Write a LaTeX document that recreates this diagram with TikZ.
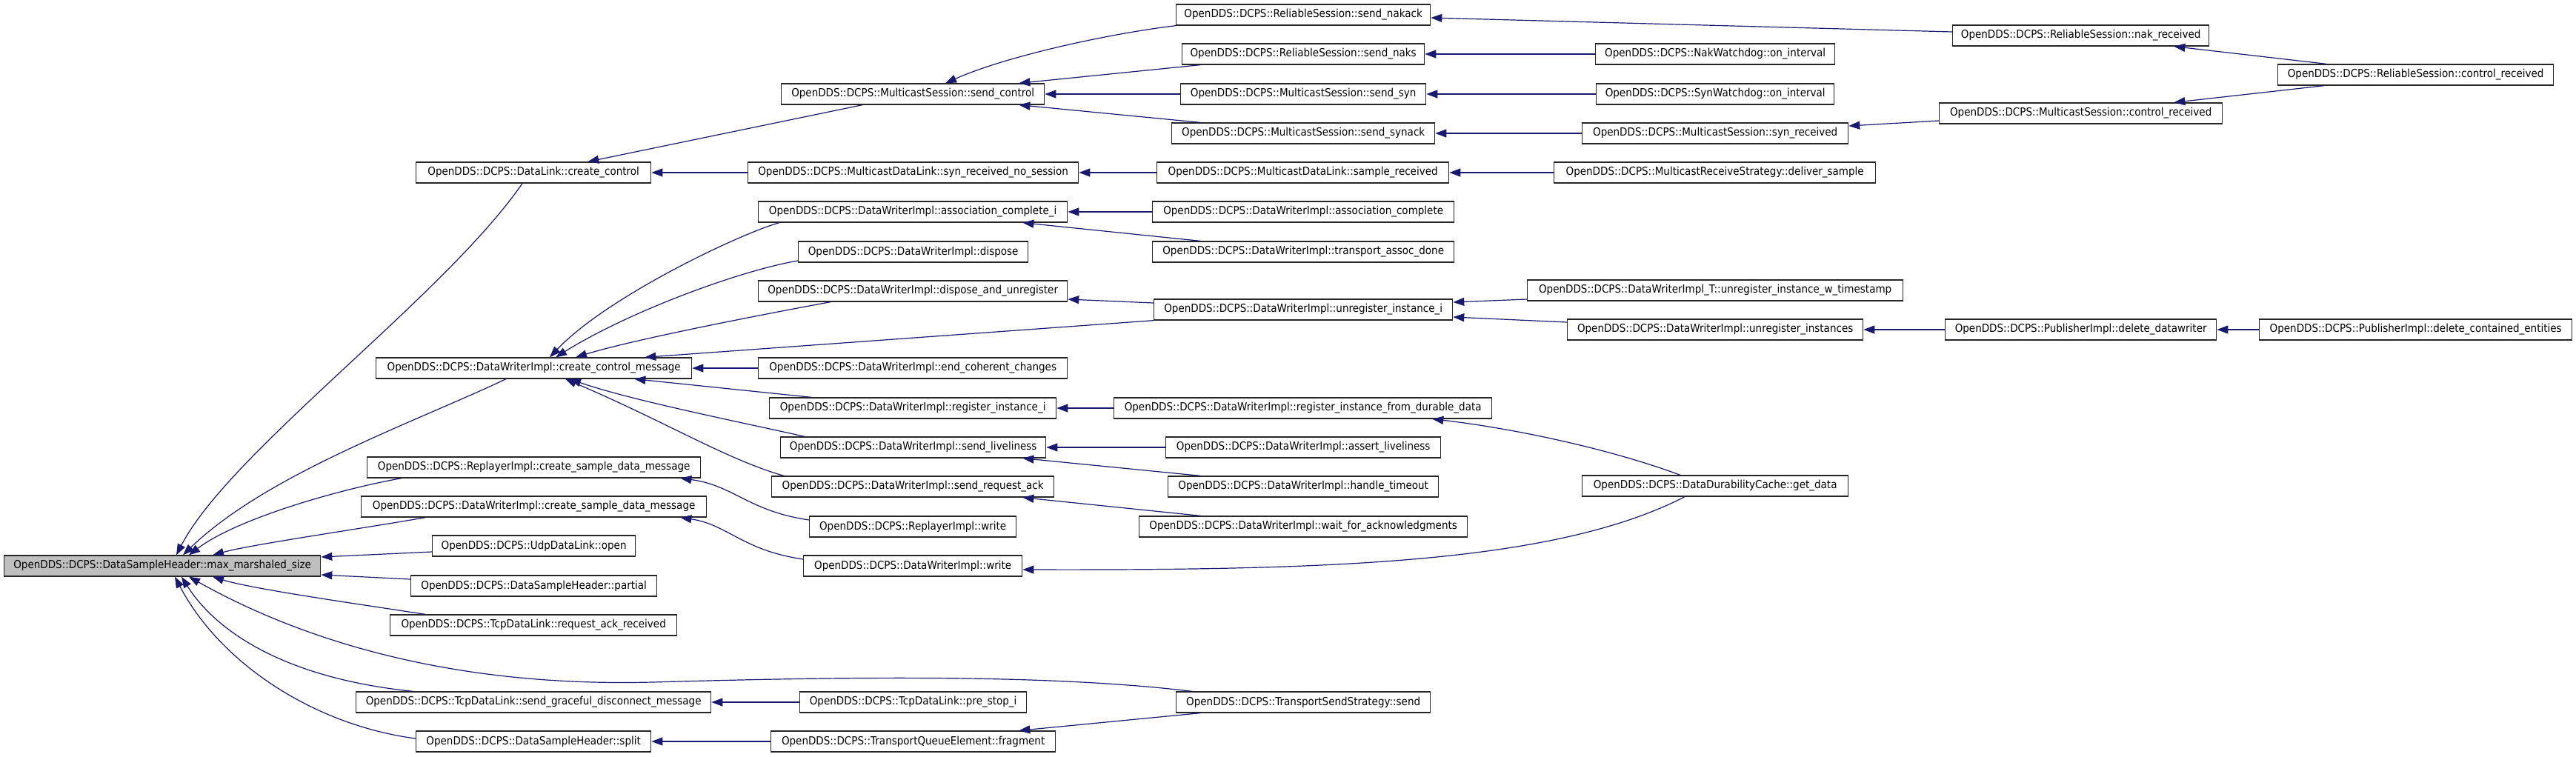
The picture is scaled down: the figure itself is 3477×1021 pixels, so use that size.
\documentclass[tikz,border=0pt]{standalone}
\usepackage{fontspec}
\setmainfont{DejaVu Sans}[FakeStretch=0.9]
\usetikzlibrary{arrows.meta}
\definecolor{edgeblue}{HTML}{191970}
\definecolor{rootgray}{HTML}{BFBFBF}
\newcommand\fnode[6][]{\node[fbox,#1,minimum width={#4-#3}] (#2) at (#3,#5) {#6};}
\begin{document}
\begin{tikzpicture}[x=1pt,y=-1pt,
  fbox/.style={draw=black!85, line width=1.3pt, anchor=west, inner sep=0pt,
    minimum height=28pt, font=\fontsize{15}{18}\selectfont, fill=white},
  cedge/.style={draw=edgeblue, line width=1.2pt, -{Triangle[length=15pt,width=11pt]}}]
\fill[white] (0,0) rectangle (3477,1021);
% column 0
\fnode[fill=rootgray]{root}{5}{432}{764}{OpenDDS::DCPS::DataSampleHeader::max\_marshaled\_size}
% column 1
\fnode{cc}{561}{878}{233}{OpenDDS::DCPS::DataLink::create\_control}
\fnode{ccm}{507}{933}{497}{OpenDDS::DCPS::DataWriterImpl::create\_control\_message}
\fnode{rcsdm}{495}{945}{631}{OpenDDS::DCPS::ReplayerImpl::create\_sample\_data\_message}
\fnode{dcsdm}{487}{953}{684}{OpenDDS::DCPS::DataWriterImpl::create\_sample\_data\_message}
\fnode{open}{583}{857}{737}{OpenDDS::DCPS::UdpDataLink::open}
\fnode{partial}{554}{886}{791}{OpenDDS::DCPS::DataSampleHeader::partial}
\fnode{rar}{526}{913}{844}{OpenDDS::DCPS::TcpDataLink::request\_ack\_received}
\fnode{sgdm}{480}{959}{948}{OpenDDS::DCPS::TcpDataLink::send\_graceful\_disconnect\_message}
\fnode{split}{561}{878}{1001}{OpenDDS::DCPS::DataSampleHeader::split}
% column 2
\fnode{sc}{1054}{1409}{127}{OpenDDS::DCPS::MulticastSession::send\_control}
\fnode{srns}{1009}{1455}{233}{OpenDDS::DCPS::MulticastDataLink::syn\_received\_no\_session}
\fnode{aci}{1023}{1440}{286}{OpenDDS::DCPS::DataWriterImpl::association\_complete\_i}
\fnode{disp}{1077}{1387}{340}{OpenDDS::DCPS::DataWriterImpl::dispose}
\fnode{dau}{1023}{1440}{393}{OpenDDS::DCPS::DataWriterImpl::dispose\_and\_unregister}
\fnode{ecc}{1023}{1440}{497}{OpenDDS::DCPS::DataWriterImpl::end\_coherent\_changes}
\fnode{rii}{1038}{1425}{551}{OpenDDS::DCPS::DataWriterImpl::register\_instance\_i}
\fnode{sl}{1053}{1411}{604}{OpenDDS::DCPS::DataWriterImpl::send\_liveliness}
\fnode{sra}{1041}{1422}{657}{OpenDDS::DCPS::DataWriterImpl::send\_request\_ack}
\fnode{rw}{1092}{1371}{711}{OpenDDS::DCPS::ReplayerImpl::write}
\fnode{dw}{1084}{1379}{764}{OpenDDS::DCPS::DataWriterImpl::write}
\fnode{psi}{1079}{1385}{948}{OpenDDS::DCPS::TcpDataLink::pre\_stop\_i}
\fnode{frag}{1040}{1424}{1001}{OpenDDS::DCPS::TransportQueueElement::fragment}
% column 3
\fnode{snk}{1587}{1930}{20}{OpenDDS::DCPS::ReliableSession::send\_nakack}
\fnode{sn}{1595}{1922}{73}{OpenDDS::DCPS::ReliableSession::send\_naks}
\fnode{ssyn}{1593}{1924}{127}{OpenDDS::DCPS::MulticastSession::send\_syn}
\fnode{ssa}{1581}{1936}{180}{OpenDDS::DCPS::MulticastSession::send\_synack}
\fnode{sr}{1561}{1955}{233}{OpenDDS::DCPS::MulticastDataLink::sample\_received}
\fnode{ac}{1555}{1962}{286}{OpenDDS::DCPS::DataWriterImpl::association\_complete}
\fnode{tad}{1555}{1962}{340}{OpenDDS::DCPS::DataWriterImpl::transport\_assoc\_done}
\fnode{uii}{1557}{1960}{418}{OpenDDS::DCPS::DataWriterImpl::unregister\_instance\_i}
\fnode{rifdd}{1503}{2013}{551}{OpenDDS::DCPS::DataWriterImpl::register\_instance\_from\_durable\_data}
\fnode{al}{1573}{1944}{604}{OpenDDS::DCPS::DataWriterImpl::assert\_liveliness}
\fnode{ht}{1576}{1941}{657}{OpenDDS::DCPS::DataWriterImpl::handle\_timeout}
\fnode{wfa}{1537}{1980}{711}{OpenDDS::DCPS::DataWriterImpl::wait\_for\_acknowledgments}
\fnode{tss}{1587}{1930}{948}{OpenDDS::DCPS::TransportSendStrategy::send}
% column 4
\fnode{nwd}{2153}{2476}{73}{OpenDDS::DCPS::NakWatchdog::on\_interval}
\fnode{swd}{2154}{2475}{127}{OpenDDS::DCPS::SynWatchdog::on\_interval}
\fnode{syr}{2135}{2494}{180}{OpenDDS::DCPS::MulticastSession::syn\_received}
\fnode{ds}{2097}{2531}{233}{OpenDDS::DCPS::MulticastReceiveStrategy::deliver\_sample}
\fnode{uiwt}{2061}{2568}{392}{OpenDDS::DCPS::DataWriterImpl\_T::unregister\_instance\_w\_timestamp}
\fnode{uis}{2115}{2514}{445}{OpenDDS::DCPS::DataWriterImpl::unregister\_instances}
\fnode{gd}{2135}{2494}{656}{OpenDDS::DCPS::DataDurabilityCache::get\_data}
% column 5
\fnode{nr}{2635}{2981}{48}{OpenDDS::DCPS::ReliableSession::nak\_received}
\fnode{msc}{2617}{2999}{153}{OpenDDS::DCPS::MulticastSession::control\_received}
\fnode{dd}{2625}{2991}{445}{OpenDDS::DCPS::PublisherImpl::delete\_datawriter}
% column 6
\fnode{rsc}{3074}{3446}{101}{OpenDDS::DCPS::ReliableSession::control\_received}
\fnode{dce}{3049}{3471}{445}{OpenDDS::DCPS::PublisherImpl::delete\_contained\_entities}
% edges to root
\draw[cedge] ([xshift=144pt]cc.south west) .. controls (600,400) and (310,610) .. ([xshift=233pt]root.north west);
\draw[cedge] ([xshift=176pt]ccm.south west) .. controls (560,570) and (360,640) .. ([xshift=242pt]root.north west);
\draw[cedge] ([xshift=47pt]rcsdm.south west) .. controls (460,660) and (320,700) .. ([xshift=250pt]root.north west);
\draw[cedge] ([xshift=87pt]dcsdm.south west) .. controls (480,715) and (340,735) .. ([xshift=282pt]root.north west);
\draw[cedge] ([yshift=-8pt]open.west) -- ([yshift=12pt]root.east);
\draw[cedge] ([yshift=9pt]partial.west) -- ([yshift=-12pt]root.east);
\draw[cedge] ([xshift=48pt]rar.north west) .. controls (480,815) and (340,795) .. ([xshift=282pt]root.south west);
\coordinate (tssmid) at (880,921);
\draw[cedge] ([xshift=22pt]tss.north west) .. controls (1400,908) and (1100,915) .. (tssmid) .. controls (600,928) and (400,860) .. ([xshift=250pt]root.south west);
\draw[cedge] ([xshift=77pt]sgdm.north west) .. controls (380,915) and (290,850) .. ([xshift=240pt]root.south west);
\draw[cedge] ([yshift=4pt]split.west) .. controls (430,980) and (300,900) .. ([xshift=231pt]root.south west);
% create_control branch
\draw[cedge] ([xshift=110pt]sc.south west) -- ([xshift=-86pt]cc.north east);
\draw[cedge] (srns.west) -- (cc.east);
\draw[cedge] (snk.south west) .. controls (1500,45) and (1360,75) .. ([xshift=222pt]sc.north west);
\draw[cedge] ([xshift=25pt]sn.south west) -- ([xshift=-35pt]sc.north east);
\draw[cedge] (ssyn.west) -- (sc.east);
\draw[cedge] ([xshift=39pt]ssa.north west) -- ([xshift=-35pt]sc.south east);
\draw[cedge] ([yshift=5pt]nr.west) -- ([yshift=-4pt]snk.east);
\draw[cedge] ([xshift=66pt]rsc.north west) -- ([xshift=-48pt]nr.south east);
\draw[cedge] ([xshift=63pt]rsc.south west) -- ([xshift=-66pt]msc.north east);
\draw[cedge] (nwd.west) -- (sn.east);
\draw[cedge] (swd.west) -- (ssyn.east);
\draw[cedge] (syr.west) -- (ssa.east);
\draw[cedge] ([yshift=-10pt]msc.west) -- ([yshift=10pt]syr.east);
\draw[cedge] (sr.west) -- (srns.east);
\draw[cedge] (ds.west) -- (sr.east);
% create_control_message branch
\draw[cedge] ([xshift=29pt]aci.south west) .. controls (1000,315) and (820,400) .. ([xshift=235pt]ccm.north west);
\draw[cedge] ([yshift=-12pt]disp.west) .. controls (1000,365) and (850,420) .. ([xshift=243pt]ccm.north west);
\draw[cedge] ([xshift=98pt]dau.south west) .. controls (1000,430) and (850,460) .. ([xshift=270pt]ccm.north west);
\draw[cedge] (uii.south west) -- ([xshift=-64pt]ccm.north east);
\draw[cedge] (ecc.west) -- (ccm.east);
\draw[cedge] ([xshift=57pt]rii.north west) -- ([xshift=-78pt]ccm.south east);
\draw[cedge] ([xshift=33pt]sl.north west) .. controls (1000,570) and (850,540) .. ([xshift=262pt]ccm.south west);
\draw[cedge] ([xshift=17pt]sra.north west) .. controls (980,620) and (900,570) .. ([xshift=256pt]ccm.south west);
\draw[cedge] (ac.west) -- (aci.east);
\draw[cedge] ([xshift=65pt]tad.north west) -- ([xshift=-61pt]aci.south east);
\draw[cedge] ([yshift=9pt]uii.west) -- ([yshift=-11pt]dau.east);
\draw[cedge] ([yshift=-12pt]uiwt.west) -- ([yshift=10pt]uii.east);
\draw[cedge] ([yshift=10pt]uis.west) -- ([yshift=-10pt]uii.east);
\draw[cedge] (dd.west) -- (uis.east);
\draw[cedge] (dce.west) -- (dd.east);
\draw[cedge] (rifdd.west) -- (rii.east);
\draw[cedge] ([xshift=133pt]gd.north west) .. controls (2170,605) and (2040,578) .. ([xshift=-81pt]rifdd.south east);
\draw[cedge] (al.west) -- (sl.east);
\draw[cedge] ([xshift=44pt]ht.north west) -- ([xshift=-32pt]sl.south east);
\draw[cedge] ([xshift=83pt]wfa.north west) -- ([xshift=-43pt]sra.south east);
% sample data messages
\draw[cedge] ([yshift=9pt]rw.west) .. controls (1010,690) and (990,655) .. ([xshift=-28pt]rcsdm.south east);
\draw[cedge] ([yshift=9pt]dw.west) .. controls (1002,743) and (982,708) .. ([xshift=-36pt]dcsdm.south east);
\draw[cedge] ([xshift=139pt]gd.south west) .. controls (2100,760) and (1800,770) .. ([yshift=-5pt]dw.east);
% bottom
\draw[cedge] (psi.west) -- (sgdm.east);
\draw[cedge] (frag.west) -- (split.east);
\draw[cedge] ([xshift=33pt]tss.south west) -- ([xshift=-50pt]frag.north east);
\end{tikzpicture}
\end{document}
